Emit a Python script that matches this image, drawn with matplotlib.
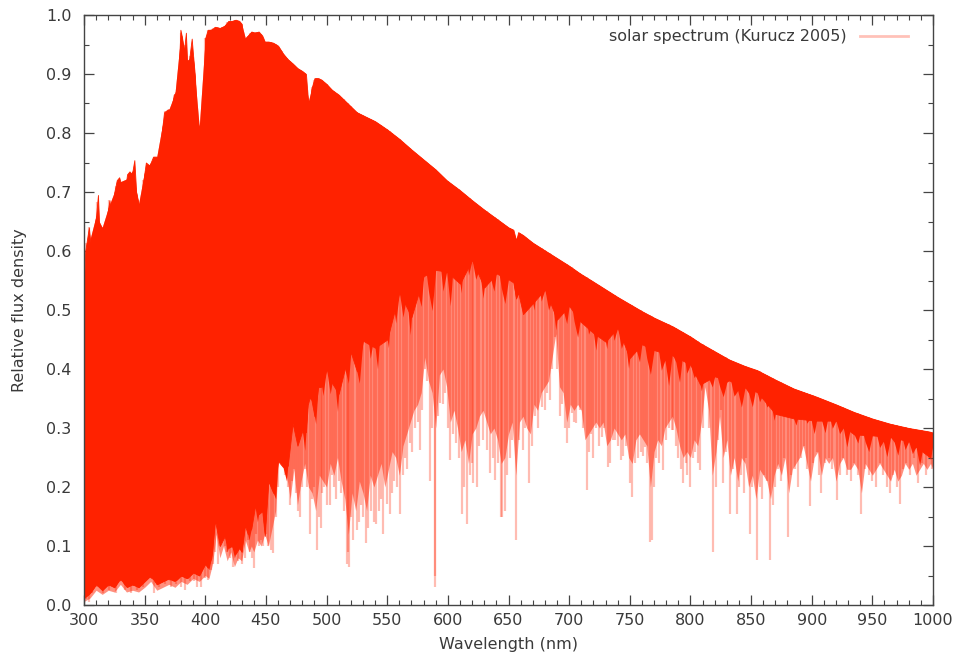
import numpy as np
import matplotlib
matplotlib.use("Agg")
import matplotlib.pyplot as plt
from matplotlib.lines import Line2D

plt.rcParams['font.family'] = ['DejaVu Sans']

# Upper envelope (continuum) of the spectrum, nm -> relative flux
cont_wl = [300, 301, 302.5, 304, 306, 308, 310, 311.5, 313, 315, 317, 319, 321, 323, 325,
           327, 329, 331, 333, 335.5, 337.5, 339.5, 341.5, 343, 345, 347, 349, 351, 354,
           357, 360, 362.5, 364, 366, 369, 372, 374, 376.5, 378, 379.5, 381, 382, 383,
           384, 385.5, 387, 388.8, 390, 391.5, 393, 395, 397, 398.5, 399.8, 402, 405,
           408, 412, 416, 419, 422, 425, 428, 430, 431, 432.7, 435, 438, 441, 444, 447,
           449, 452, 456, 460, 464, 468, 472, 476, 480, 483, 484.5, 486.1, 487.5, 490,
           493, 496, 500, 504.5, 510, 515, 520, 525, 530, 540, 550, 560, 570, 580, 590,
           599, 610, 620, 630, 640, 650, 654, 656.3, 658, 662, 670, 680, 690, 700, 709,
           720, 730, 740, 750, 760, 770, 785.6, 800, 808, 820, 832, 845, 855, 870, 885,
           904, 920, 935, 950, 965, 980, 997, 1000]
cont_flux = [0.54, 0.60, 0.62, 0.64, 0.60, 0.63, 0.66, 0.695, 0.62, 0.64, 0.60, 0.66, 0.686,
             0.64, 0.70, 0.72, 0.725, 0.71, 0.69, 0.73, 0.735, 0.73, 0.754, 0.70, 0.68,
             0.68, 0.72, 0.75, 0.745, 0.76, 0.76, 0.75, 0.80, 0.835, 0.84, 0.84, 0.865,
             0.87, 0.90, 0.975, 0.96, 0.90, 0.95, 0.97, 0.90, 0.93, 0.96, 0.93, 0.895,
             0.82, 0.81, 0.81, 0.83, 0.96, 0.975, 0.975, 0.98, 0.978, 0.982, 0.99, 0.99,
             0.992, 0.99, 0.985, 0.94, 0.96, 0.965, 0.972, 0.97, 0.972, 0.965, 0.955,
             0.955, 0.953, 0.948, 0.935, 0.925, 0.918, 0.91, 0.905, 0.90, 0.86, 0.84,
             0.875, 0.893, 0.893, 0.89, 0.883, 0.873, 0.865, 0.855, 0.845, 0.835, 0.83,
             0.82, 0.806, 0.79, 0.772, 0.755, 0.738, 0.72, 0.703, 0.686, 0.67, 0.655,
             0.64, 0.636, 0.618, 0.632, 0.627, 0.614, 0.601, 0.588, 0.575, 0.562, 0.548,
             0.535, 0.522, 0.51, 0.498, 0.487, 0.472, 0.455, 0.444, 0.43, 0.416, 0.405,
             0.398, 0.382, 0.367, 0.353, 0.34, 0.327, 0.316, 0.307, 0.30, 0.294, 0.292]

# Blended-line regions below the continuum, sampled on one wavelength grid:
# band_core = lower edge of the saturated part, band_mid = lower edge of the dense part
band_wl = [300, 305, 310, 315, 320, 325, 330, 335, 340, 345, 350, 355, 360, 365, 370, 375,
           380, 385, 390, 395, 400, 403, 406, 409, 412, 415, 418, 421, 424, 427, 430, 433,
           436, 438, 440, 443, 446, 449, 452, 455, 458, 461, 464, 467, 470, 473, 476, 479,
           482, 485, 488, 491, 494, 497, 500, 503, 506, 509, 512, 515, 518, 521, 524, 527,
           530, 533, 536, 539, 542, 545, 548, 551, 554, 557, 560, 563, 566, 569, 572, 575,
           578, 581, 584, 587, 590, 593, 596, 599, 602, 605, 608, 611, 614, 617, 620, 623,
           626, 629, 632, 635, 638, 641, 644, 647, 650, 653, 656, 659, 662, 665, 668, 671,
           674, 677, 680, 683, 686, 689, 692, 695, 698, 701, 704, 707, 710, 713, 716, 719,
           722, 725, 728, 731, 734, 737, 740, 743, 746, 749, 752, 755, 758, 761, 764, 767,
           770, 773, 776, 779, 782, 785, 788, 791, 794, 797, 800, 803, 806, 809, 812, 815,
           818, 821, 824, 827, 830, 833, 836, 839, 842, 845, 848, 851, 854, 857, 860, 863,
           866, 869, 872, 875, 878, 881, 884, 887, 890, 893, 896, 899, 902, 905, 908, 911,
           914, 917, 920, 923, 926, 929, 932, 935, 938, 941, 944, 947, 950, 953, 956, 959,
           962, 965, 968, 971, 974, 977, 980, 983, 986, 989, 992, 995, 998, 1000]
band_core = [0.012, 0.02, 0.035, 0.025, 0.035, 0.03, 0.045, 0.03, 0.035, 0.03, 0.04, 0.05,
             0.035, 0.04, 0.045, 0.04, 0.05, 0.045, 0.055, 0.05, 0.07, 0.06, 0.09, 0.17,
             0.10, 0.13, 0.09, 0.11, 0.08, 0.10, 0.09, 0.14, 0.11, 0.13,
             0.18, 0.141, 0.18, 0.117, 0.21, 0.195, 0.18, 0.276, 0.234, 0.21, 0.288, 0.318,
             0.27, 0.312, 0.262, 0.355, 0.346, 0.307, 0.40, 0.355,
             0.40, 0.358, 0.394, 0.328, 0.418, 0.40, 0.376, 0.454, 0.406, 0.376, 0.448,
             0.472, 0.418, 0.454, 0.40, 0.49, 0.478, 0.436, 0.526, 0.478,
             0.53, 0.488, 0.524, 0.458, 0.548, 0.53, 0.506, 0.583, 0.532, 0.499, 0.568,
             0.589, 0.532, 0.565, 0.507, 0.592, 0.576, 0.529, 0.613, 0.559,
             0.585, 0.552, 0.57, 0.52, 0.574, 0.555, 0.532, 0.577, 0.538, 0.511, 0.552,
             0.561, 0.518, 0.535, 0.493, 0.548, 0.534, 0.50, 0.554, 0.515,
             0.535, 0.50, 0.517, 0.466, 0.519, 0.50, 0.477, 0.522, 0.4815, 0.454, 0.4945,
             0.503, 0.459, 0.4755, 0.432, 0.485, 0.47, 0.4345, 0.4875, 0.4485,
             0.47, 0.435, 0.452, 0.401, 0.454, 0.435, 0.412, 0.457, 0.418, 0.391, 0.432,
             0.441, 0.398, 0.415, 0.372, 0.4255, 0.4115, 0.3775, 0.4315, 0.393,
             0.4075, 0.3855, 0.395, 0.363, 0.396, 0.384, 0.3695, 0.3965, 0.371, 0.353,
             0.3775, 0.382, 0.354, 0.3635, 0.3355, 0.3685, 0.359, 0.336, 0.369, 0.3445,
             0.3575, 0.3355, 0.345, 0.313, 0.346, 0.334, 0.3195, 0.3465, 0.322, 0.305,
             0.3295, 0.335, 0.308, 0.3185, 0.2905, 0.3235, 0.314, 0.292, 0.324, 0.2995,
             0.3125, 0.2905, 0.30, 0.268, 0.301, 0.289, 0.2745, 0.3015, 0.277, 0.26,
             0.2875, 0.293, 0.267, 0.2775, 0.2515, 0.2845, 0.276, 0.254, 0.288, 0.2635,
             0.2775, 0.2565, 0.268, 0.237, 0.271, 0.26, 0.2465, 0.2755]
band_mid = [0.006, 0.012, 0.025, 0.018, 0.025, 0.022, 0.035, 0.022, 0.025, 0.022, 0.03,
            0.04, 0.025, 0.03, 0.035, 0.03, 0.04, 0.035, 0.045, 0.04, 0.05, 0.045, 0.07,
            0.12, 0.08, 0.10, 0.075, 0.09, 0.065, 0.08, 0.075, 0.11, 0.09, 0.10, 0.09,
            0.11, 0.10, 0.12, 0.10, 0.13, 0.16, 0.28, 0.24, 0.22, 0.18, 0.23, 0.17, 0.21,
            0.24, 0.20, 0.19, 0.16, 0.22, 0.21, 0.20, 0.24, 0.22, 0.25, 0.21, 0.18, 0.12,
            0.19, 0.16, 0.21, 0.19, 0.16, 0.22, 0.20, 0.22, 0.24, 0.20, 0.23, 0.26, 0.25,
            0.22, 0.27, 0.29, 0.31, 0.33, 0.34, 0.36, 0.42, 0.38, 0.36, 0.30, 0.39, 0.40,
            0.37, 0.31, 0.33, 0.30, 0.26, 0.28, 0.24, 0.29, 0.30, 0.32, 0.33, 0.31, 0.29,
            0.30, 0.28, 0.24, 0.25, 0.29, 0.31, 0.22, 0.31, 0.32, 0.30, 0.29, 0.34, 0.33,
            0.36, 0.37, 0.38, 0.42, 0.46, 0.37, 0.36, 0.31, 0.34, 0.33, 0.34, 0.33, 0.28,
            0.29, 0.30, 0.31, 0.30, 0.31, 0.27, 0.28, 0.30, 0.29, 0.28, 0.29, 0.25, 0.24,
            0.28, 0.29, 0.28, 0.27, 0.20, 0.26, 0.28, 0.27, 0.30, 0.31, 0.32, 0.30, 0.27,
            0.25, 0.26, 0.25, 0.28, 0.27, 0.31, 0.37, 0.33, 0.22, 0.26, 0.32, 0.25, 0.28,
            0.22, 0.25, 0.21, 0.25, 0.24, 0.20, 0.22, 0.18, 0.23, 0.22, 0.21, 0.18, 0.22,
            0.24, 0.22, 0.25, 0.19, 0.23, 0.24, 0.25, 0.27, 0.24, 0.21, 0.25, 0.26, 0.22,
            0.25, 0.24, 0.25, 0.21, 0.24, 0.25, 0.23, 0.23, 0.24, 0.23, 0.19, 0.24, 0.23,
            0.22, 0.23, 0.24, 0.23, 0.22, 0.21, 0.23, 0.21, 0.22, 0.24, 0.23, 0.24, 0.22,
            0.23, 0.24, 0.23, 0.24, 0.23]

# Absorption lines: wavelength (nm) and flux at the line core
line_wl = [302, 304, 307, 311, 316, 321, 326, 330, 334, 339, 344, 349, 354, 358, 362, 367,
           372, 376, 380, 383, 387, 391, 393.4, 396.8, 400,
           402.5, 404.5, 406.5, 408, 410.2, 412.5, 414, 416, 418, 420, 422.7, 425, 427,
           430.5, 432.5, 435, 437, 438.4, 440.5, 442, 444, 446, 447.8, 450, 452, 454,
           456, 458, 460,
           461.5, 463, 465.5, 467, 468.5, 470, 471.5, 473, 475, 476.7, 478, 480, 482,
           484, 486.1, 488, 489.5, 491.8, 493.5, 495, 496.5, 498, 500, 502.8, 504.5,
           506, 508, 510, 512, 514, 516.7, 517.3, 518.4, 520, 522, 524.8, 526.5, 528,
           530, 532.8, 534.5, 537, 539, 541,
           543, 545, 546.7, 549.5, 552, 554, 556, 558, 560.5, 563, 565, 566.5, 568.7,
           570.5, 573, 575, 577, 579, 581, 583, 585, 587, 589.0, 589.6, 592, 593.5, 596,
           598, 600, 601.7, 604, 607, 609, 611.3, 613.5, 616, 618, 620, 621,
           623.7, 626, 629, 632, 634.7, 637, 638.8, 641, 643.5, 645, 647, 649, 651, 653,
           656.3, 659, 662, 664, 667, 669.5, 671.8, 674, 677.3, 680, 682, 684, 686, 688,
           690, 692.4, 694.5, 696.5, 698, 700, 702, 704, 706, 709, 711.5, 714.4, 716.5,
           718, 720, 722.5, 724.5, 726.7, 729, 732, 733.6, 736, 737.7, 740, 743, 744.6,
           747, 750, 751.5, 754, 757, 759, 761, 762.5, 764.5, 766.5, 768, 770, 772, 774,
           777.6, 780, 782, 784.5, 786, 788, 790, 792, 794, 796, 797.5, 799.6, 802, 804,
           806, 807.8, 810, 813.3, 815.5, 818.8, 821, 823, 825, 827, 829,
           832.5, 835, 838, 840, 842, 844, 846, 849, 851, 854.5, 857, 859, 861, 863,
           865.5, 868, 870, 872, 874.5, 877, 880.6, 883, 886, 889, 891, 894, 896, 898.5,
           901, 904, 906, 908, 911, 914, 917, 920.5, 923, 926, 929, 932, 935, 938, 941,
           944, 947, 950, 953, 956, 959, 962, 964.4, 967, 970, 972.7, 975, 978, 981, 984,
           987.8, 991, 994, 997, 999]
line_min = [0.01, 0.005, 0.02, 0.03, 0.02, 0.025, 0.02, 0.05, 0.025, 0.02, 0.025, 0.03,
            0.06, 0.02, 0.03, 0.035, 0.03, 0.035, 0.03, 0.025, 0.04, 0.04, 0.03, 0.03, 0.045,
            0.042, 0.06, 0.07, 0.09, 0.07, 0.10, 0.13, 0.10, 0.09, 0.08, 0.065, 0.09, 0.075,
            0.07, 0.08, 0.11, 0.09, 0.08, 0.062, 0.12, 0.10, 0.11, 0.10, 0.12, 0.10, 0.093,
            0.088, 0.15, 0.20,
            0.30, 0.26, 0.22, 0.24, 0.20, 0.17, 0.21, 0.23, 0.19, 0.16, 0.15, 0.20, 0.23,
            0.20, 0.12, 0.18, 0.20, 0.093, 0.15, 0.13, 0.19, 0.20, 0.17, 0.17, 0.22, 0.20,
            0.18, 0.21, 0.19, 0.16, 0.07, 0.09, 0.065, 0.15, 0.11, 0.127, 0.14, 0.17, 0.15,
            0.105, 0.13, 0.16, 0.14, 0.138,
            0.16, 0.18, 0.121, 0.172, 0.155, 0.19, 0.21, 0.20, 0.155, 0.22, 0.25, 0.23,
            0.274, 0.26, 0.30, 0.31, 0.263, 0.33, 0.40, 0.38, 0.21, 0.30, 0.031, 0.05,
            0.32, 0.342, 0.34, 0.36, 0.30, 0.246, 0.29, 0.274, 0.25, 0.155, 0.20, 0.138,
            0.22, 0.24, 0.206,
            0.20, 0.27, 0.28, 0.263, 0.223, 0.25, 0.212, 0.24, 0.15, 0.15, 0.16, 0.22,
            0.25, 0.28, 0.11, 0.28, 0.263, 0.30, 0.206, 0.27, 0.32, 0.30, 0.336, 0.33,
            0.36, 0.347, 0.40, 0.455, 0.40, 0.32, 0.34, 0.30, 0.274, 0.30, 0.325, 0.31,
            0.308, 0.33, 0.30, 0.195, 0.26, 0.29, 0.25, 0.30, 0.27, 0.285, 0.30, 0.234,
            0.24, 0.28, 0.28, 0.27, 0.246, 0.252, 0.27, 0.206, 0.183, 0.24, 0.25, 0.26,
            0.252, 0.268, 0.24, 0.107, 0.11, 0.20, 0.25, 0.24, 0.229, 0.28, 0.30, 0.296,
            0.297, 0.27, 0.25, 0.23, 0.206, 0.24, 0.22, 0.20, 0.25, 0.26, 0.24, 0.229,
            0.30, 0.38, 0.30, 0.09, 0.20, 0.28, 0.33, 0.206, 0.26,
            0.155, 0.23, 0.155, 0.20, 0.22, 0.19, 0.25, 0.12, 0.20, 0.076, 0.20, 0.18,
            0.22, 0.21, 0.076, 0.17, 0.20, 0.23, 0.21, 0.25, 0.116, 0.22, 0.23, 0.20,
            0.25, 0.27, 0.23, 0.167, 0.24, 0.26, 0.22, 0.189, 0.24, 0.25, 0.23, 0.178,
            0.22, 0.25, 0.22, 0.21, 0.24, 0.22, 0.155, 0.23, 0.22, 0.21, 0.20, 0.24,
            0.22, 0.20, 0.189, 0.22, 0.20, 0.172, 0.23, 0.24, 0.22, 0.25, 0.206, 0.24,
            0.22, 0.25, 0.23]

x_ticks = [300, 350, 400, 450, 500, 550, 600, 650, 700, 750, 800, 850, 900, 950, 1000]
y_ticks = [0.0, 0.1, 0.2, 0.3, 0.4, 0.5, 0.6, 0.7, 0.8, 0.9, 1.0]

RED = '#ff2200'
TEXT = '#3a3a3a'
FS = 11.5

fig = plt.figure(figsize=(9.59, 6.68), dpi=100)
ax = fig.add_axes([84 / 959, 1 - 605 / 668, (933 - 84) / 959, 590 / 668])

cont_wl_a = np.array(cont_wl)
cont_a = np.array(cont_flux)
band_top = np.interp(band_wl, cont_wl_a, cont_a)

# dense, partly blended band
ax.fill_between(band_wl, band_mid, band_top, color=RED, alpha=0.50, linewidth=0, zorder=1)

# individual absorption lines, each running from its core up to the continuum
lw_a = np.array(line_wl)
ax.vlines(lw_a, line_min, np.interp(lw_a, cont_wl_a, cont_a),
          color=RED, alpha=0.30, linewidth=1.6, zorder=2)

# saturated core of the spectrum
ax.fill_between(band_wl, band_core, band_top, color=RED, linewidth=0, zorder=3)
ax.fill_between(cont_wl_a, np.interp(cont_wl_a, band_wl, band_core), cont_a,
                color=RED, linewidth=0.6, edgecolor=RED, zorder=3)

ax.set_xlim(300, 1000)
ax.set_ylim(0.0, 1.0)
ax.set_xticks(x_ticks)
ax.set_xticklabels([str(v) for v in x_ticks])
ax.set_yticks(y_ticks)
ax.set_yticklabels([f"{v:.1f}" for v in y_ticks])
ax.set_xticks(np.arange(300, 1001, 10), minor=True)
ax.set_yticks(np.arange(0, 1.001, 0.05), minor=True)
ax.tick_params(which='both', direction='in', top=True, right=True, colors='#444444',
               labelsize=FS, labelcolor=TEXT)
ax.tick_params(which='major', length=7, width=0.9)
ax.tick_params(axis='x', which='major', pad=6)
ax.tick_params(axis='y', which='major', pad=9)
ax.tick_params(which='minor', length=3.5, width=0.8)
for s in ax.spines.values():
    s.set_color('#444444')
    s.set_linewidth(1.0)
    s.set_zorder(5)

ax.set_xlabel('Wavelength (nm)', fontsize=FS, color=TEXT, labelpad=6)
ax.set_ylabel('Relative flux density', fontsize=FS, color=TEXT, labelpad=14)

handle = Line2D([0], [0], color=RED, alpha=0.28, linewidth=2)
ax.legend([handle], ['solar spectrum (Kurucz 2005)'], loc='upper right', frameon=False,
          markerfirst=False, fontsize=FS, handlelength=3.0, borderaxespad=0.5,
          bbox_to_anchor=(1 - 11 / 849, 1.0), labelcolor=TEXT)

fig.savefig('out.png', dpi=100)
